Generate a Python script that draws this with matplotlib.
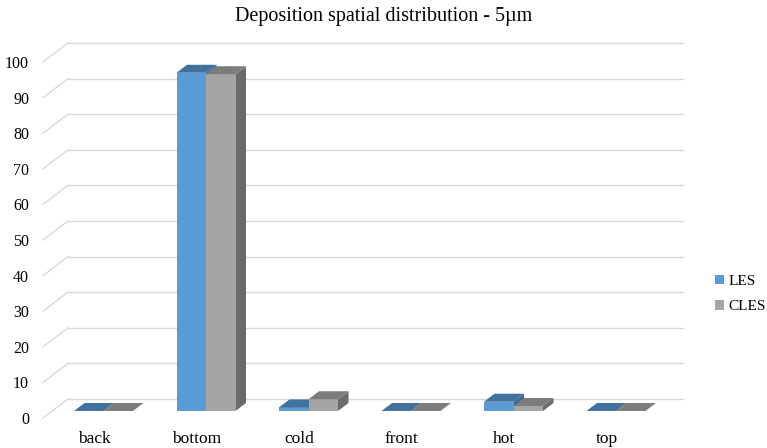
import matplotlib
matplotlib.use("Agg")
import matplotlib.pyplot as plt
from matplotlib.patches import Polygon, Patch
import numpy as np

categories = ["back", "bottom", "cold", "front", "hot", "top"]
les = [0.0, 95.0, 1.0, 0.0, 2.6, 0.0]
cles = [0.0, 94.6, 3.3, 0.0, 1.4, 0.0]
yticks = list(range(0, 101, 10))

TITLE = "Deposition spatial distribution - 5\u00b5m"
BLUE, BLUE_TOP, BLUE_SIDE = "#5b9bd5", "#41719c", "#3d6b94"
GRAY, GRAY_TOP, GRAY_SIDE = "#a5a5a5", "#7c7c7c", "#6b6b6b"
GRID = "#d9d9d9"

plt.rcParams["font.family"] = ["Liberation Serif", "DejaVu Serif"]

W, H = 767, 448
fig = plt.figure(figsize=(W / 100, H / 100), dpi=100)
# front plane of the 3d box, in pixels
x0_px, x1_px, y0_px, y1_px = 43, 658, 418, 62
ax = fig.add_axes([x0_px / W, 1 - y0_px / H, (x1_px - x0_px) / W, (y0_px - y1_px) / H])
n = len(categories)
ax.set_xlim(0, n)
ax.set_ylim(0, 100)
for s in ax.spines.values():
    s.set_visible(False)

# depth of the box (back wall offset) in data units
px_x = n / (x1_px - x0_px)
px_y = 100 / (y0_px - y1_px)
DX, DY = 25 * px_x, 19 * px_y

# back wall gridlines plus the slanted lines on the left wall
for v in yticks:
    ax.plot([DX, n + DX], [v + DY, v + DY], color=GRID, lw=1, clip_on=False, zorder=0)
    ax.plot([0, DX], [v, v + DY], color=GRID, lw=1, clip_on=False, zorder=0)

ax.set_yticks(yticks)
ax.set_yticklabels([str(v) for v in yticks], fontsize=11.5)
ax.tick_params(axis="y", length=0, pad=10)
ax.set_xticks(np.arange(n) + 0.5)
ax.set_xticklabels(categories, fontsize=12.5)
ax.tick_params(axis="x", length=0, pad=9)

# bars sit between depth fractions f0 and f1
f0, f1 = 0.37, 0.79
bw = 29.5 * px_x
bx, by = f0 * DX, f0 * DY
ddx, ddy = (f1 - f0) * DX, (f1 - f0) * DY


def draw_box(xl, h, front, top, side, z):
    xr = xl + bw
    b = by
    t = by + h
    ax.add_patch(Polygon([(xr, b), (xr, t), (xr + ddx, t + ddy), (xr + ddx, b + ddy)],
                         closed=True, facecolor=side, edgecolor="none", zorder=z, clip_on=False))
    ax.add_patch(Polygon([(xl, b), (xr, b), (xr, t), (xl, t)],
                         closed=True, facecolor=front, edgecolor="none", zorder=z, clip_on=False))
    ax.add_patch(Polygon([(xl, t), (xr, t), (xr + ddx, t + ddy), (xl + ddx, t + ddy)],
                         closed=True, facecolor=top, edgecolor="none", zorder=z, clip_on=False))


for i in range(n):
    c = i + 0.5 + bx
    draw_box(c - bw, les[i], BLUE, BLUE_TOP, BLUE_SIDE, 2 + 2 * i)
    draw_box(c, cles[i], GRAY, GRAY_TOP, GRAY_SIDE, 3 + 2 * i)

fig.text(0.5, 1 - 16 / H, TITLE, ha="center", va="center", fontsize=14.5)

handles = [Patch(facecolor=BLUE, edgecolor="none", label="LES"),
           Patch(facecolor=GRAY, edgecolor="none", label="CLES")]
fig.legend(handles=handles, loc="center left", bbox_to_anchor=(715 / W, 1 - 294 / H),
           frameon=False, fontsize=11, handlelength=0.6, handleheight=0.6,
           handletextpad=0.3, labelspacing=0.8, borderpad=0, borderaxespad=0)

fig.savefig("out.png", dpi=100)
